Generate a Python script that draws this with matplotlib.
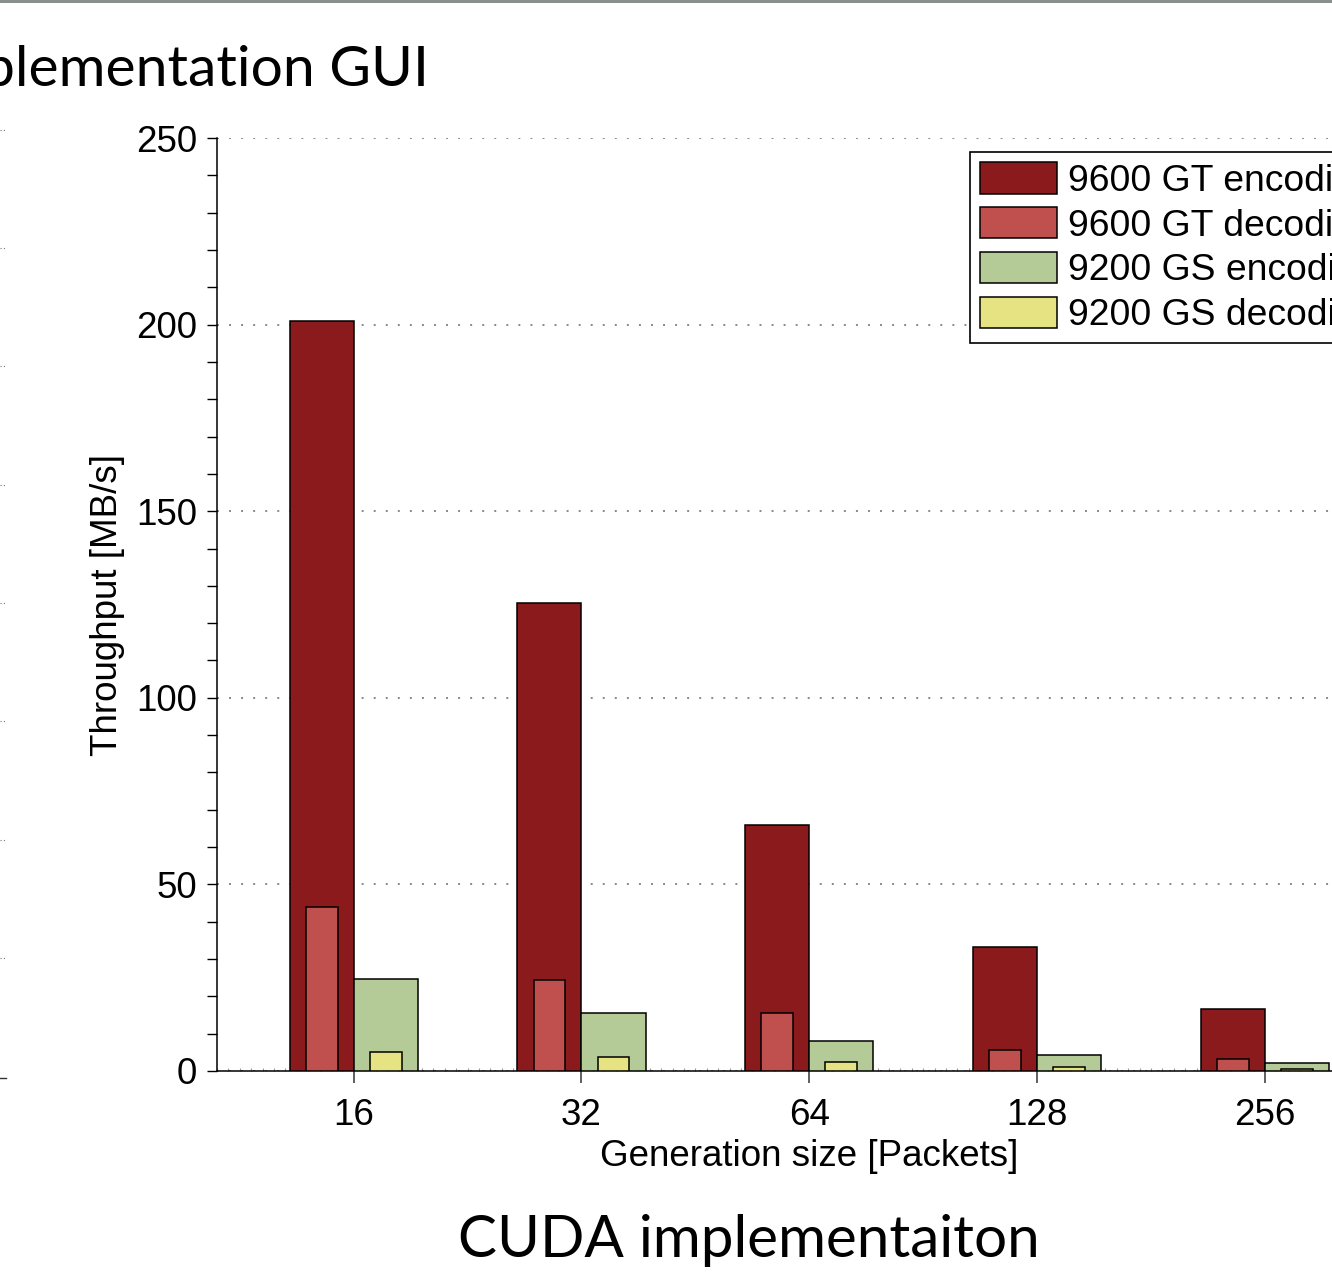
import matplotlib
matplotlib.use("Agg")
import matplotlib.pyplot as plt
import numpy as np
from matplotlib.ticker import MultipleLocator
from matplotlib.lines import Line2D
from matplotlib.patches import Rectangle

# ---- data ----
categories = ["16", "32", "64", "128", "256"]
gt_encoding = [201.0, 125.4, 65.9, 33.2, 16.6]
gt_decoding = [43.9, 24.4, 15.5, 5.6, 3.2]
gs_encoding = [24.7, 15.5, 8.0, 4.3, 2.1]
gs_decoding = [5.1, 3.75, 2.4, 1.1, 0.5]
series_labels = ["9600 GT encoding", "9600 GT decoding", "9200 GS encoding", "9200 GS decoding"]
y_ticks = [0, 50, 100, 150, 200, 250]

colors = ["#8b1a1c", "#c0504d", "#b4cb98", "#e6e382"]

plt.rcParams['font.family'] = ['Liberation Sans', 'DejaVu Sans']

W, H = 1332, 1274
fig = plt.figure(figsize=(W / 100, H / 100), dpi=100)

# axes extends past right edge of the figure (reference is a cropped slide)
left_px, right_px, top_px, bot_px = 217, 1401.6, 138, 1071
ax = fig.add_axes([left_px / W, 1 - bot_px / H, (right_px - left_px) / W, (bot_px - top_px) / H])

x = np.arange(len(categories))
wide = 0.281
narrow = 0.14
off = 0.1405

ax.bar(x - off, gt_encoding, wide, color=colors[0], edgecolor="black", linewidth=1.1, label=series_labels[0], zorder=3)
ax.bar(x - off, gt_decoding, narrow, color=colors[1], edgecolor="black", linewidth=1.1, label=series_labels[1], zorder=4)
ax.bar(x + off, gs_encoding, wide, color=colors[2], edgecolor="black", linewidth=1.1, label=series_labels[2], zorder=3)
ax.bar(x + off, gs_decoding, narrow, color=colors[3], edgecolor="black", linewidth=1.1, label=series_labels[3], zorder=4)

ax.set_xlim(-0.6, 4.6)
ax.set_ylim(0, 250)

ax.set_xticks(x)
ax.set_xticklabels(categories)
ax.xaxis.set_minor_locator(MultipleLocator(0.05))
ax.set_yticks(y_ticks)
ax.yaxis.set_minor_locator(MultipleLocator(10))

fs = 26.5
ax.tick_params(axis='y', which='both', direction='out', length=7.2, width=1, colors='black', labelsize=fs, pad=7)
ax.tick_params(axis='x', which='major', direction='out', length=8.6, width=1.2, color='#444444', labelsize=fs, pad=11)
ax.tick_params(axis='x', which='minor', direction='in', length=2, width=0.8, color='#999999')

for s in ['top', 'right']:
    ax.spines[s].set_visible(False)
ax.spines['left'].set_linewidth(1.1)
ax.spines['bottom'].set_linewidth(1.1)

ax.yaxis.grid(True, which='major', color='#888888', linestyle=(0, (1, 5.2)), linewidth=1.4, zorder=0)
ax.set_axisbelow(True)

ax.set_xlabel("Generation size [Packets]", fontsize=fs, labelpad=4)
ax.set_ylabel("Throughput [MB/s]", fontsize=fs, labelpad=8)

lfs = 26.8
leg = ax.legend(loc='upper left', bbox_to_anchor=(0.6357, 0.985), borderaxespad=0,
                fontsize=lfs, frameon=True, fancybox=False, edgecolor='black', framealpha=1,
                handlelength=2.06, handleheight=0.92, handletextpad=0.3,
                labelspacing=0.22, borderpad=0.28)
leg.get_frame().set_linewidth(1.2)

# slide titles
title_font = ['Lato', 'DejaVu Sans']
fig.text(429 / W, 1 - 86 / H, "plementation GUI", ha='right', va='baseline', fontsize=41, family=title_font)
fig.text(749 / W, 1 - 1257 / H, "CUDA implementaiton", ha='center', va='baseline', fontsize=42, family=title_font)

# top slide border line
fig.add_artist(Rectangle((0, 1 - 3 / H), 1, 3 / H, transform=fig.transFigure, color='#8a8f8f', lw=0))

# fragments of the neighbouring slide's plot at the left edge
for yy in [130, 248, 366, 485, 603, 721, 840, 958]:
    fig.add_artist(Line2D([0, 6 / W], [1 - yy / H] * 2, transform=fig.transFigure,
                          color='#777777', linestyle=(0, (1, 2)), linewidth=0.8))
fig.add_artist(Line2D([0, 6 / W], [1 - 1078 / H] * 2, transform=fig.transFigure,
                      color='#333333', linewidth=1.0))

fig.savefig("out.png", dpi=100)
